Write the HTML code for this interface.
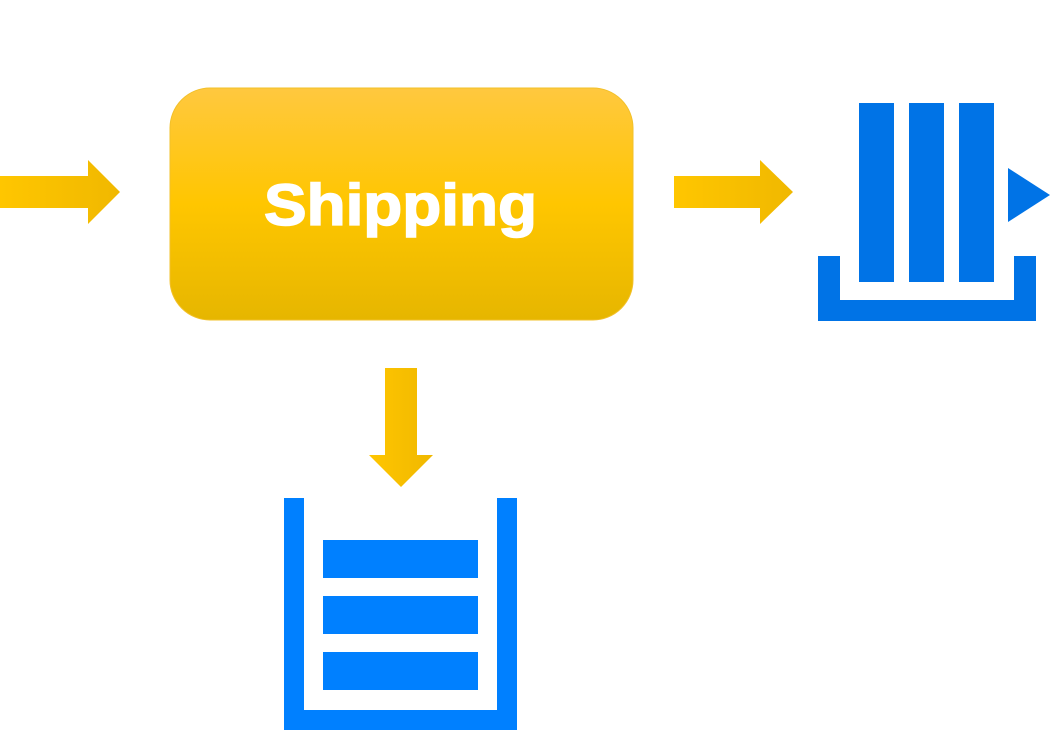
<!DOCTYPE html>
<html><head><meta charset="utf-8"><style>
html,body{margin:0;padding:0;background:#fff;width:1063px;height:743px;overflow:hidden}
</style></head><body>
<svg width="1063" height="743" viewBox="0 0 1063 743" xmlns="http://www.w3.org/2000/svg">
<defs>
<linearGradient id="box" x1="0" y1="0" x2="0" y2="1">
<stop offset="0" stop-color="#ffc83f"/>
<stop offset="0.5" stop-color="#ffc600"/>
<stop offset="1" stop-color="#e6b600"/>
</linearGradient>
<linearGradient id="arr" x1="0" y1="0" x2="1" y2="0">
<stop offset="0" stop-color="#ffc600"/>
<stop offset="1" stop-color="#f0b800"/>
</linearGradient>
</defs>
<polygon points="0,176 88,176 88,160 120,192 88,224 88,208 0,208" fill="url(#arr)"/>
<rect x="170" y="88" width="463" height="232" rx="40" ry="40" fill="url(#box)" stroke="#f2c02a" stroke-width="1"/>
<text x="264" y="225" textLength="273" lengthAdjust="spacingAndGlyphs" font-family="Liberation Sans, sans-serif" font-weight="bold" font-size="58" fill="#fff" stroke="#fff" stroke-width="1.5">Shipping</text>
<polygon points="674,176 760,176 760,160 793,192 760,224 760,208 674,208" fill="url(#arr)"/>
<polygon points="385,368 417,368 417,455 433,455 401,487 369,455 385,455" fill="url(#arr)"/>
<g fill="#0073e6">
<rect x="859" y="103" width="35" height="179"/>
<rect x="909" y="103" width="35" height="179"/>
<rect x="959" y="103" width="35" height="179"/>
<polygon points="1008,168 1050,195 1008,222"/>
<path d="M818,256 H840 V300 H1014 V256 H1036 V321 H818 Z"/>
</g>
<g fill="#0080ff">
<path d="M284,498 H304 V710 H497 V498 H517 V730 H284 Z"/>
<rect x="323" y="540" width="155" height="38"/>
<rect x="323" y="596" width="155" height="38"/>
<rect x="323" y="652" width="155" height="38"/>
</g>
</svg>
</body></html>
